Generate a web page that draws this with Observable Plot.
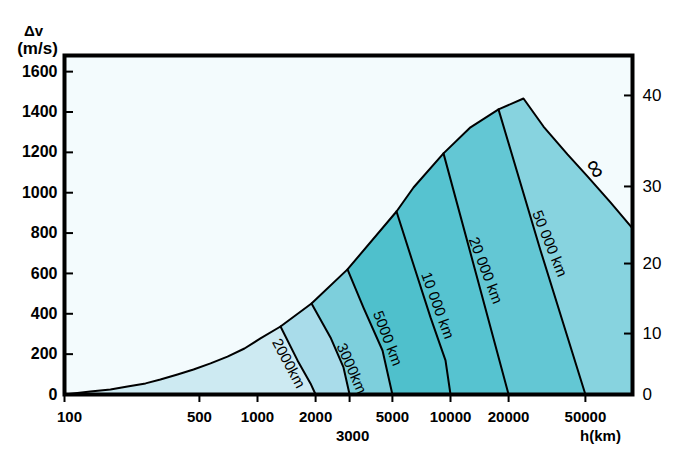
<!DOCTYPE html>
<html>
<head>
<meta charset="utf-8">
<script src="https://cdn.jsdelivr.net/npm/d3@7"></script>
<script src="https://cdn.jsdelivr.net/npm/@observablehq/plot@0.6"></script>
<style>
  html, body { margin: 0; padding: 0; background: #fff; }
</style>
</head>
<body>
<div id="chart"></div>
<script>
// ---- data ----
// upper envelope of the shaded region: altitude h (km) vs Δv (m/s)
const envH  = [100, 136, 173, 212, 263, 314, 385, 466, 571, 699, 856, 1036, 1316, 1905, 2926, 5251, 6433, 9198, 12694, 17730, 23890, 30330, 40390, 51270, 67450, 87700];
const envDv = [0,   15,  25,  40,  55,  74,  99,  124, 154, 188, 228, 278,  337,  451,  620,  907,  1026, 1195, 1324,  1413,  1467,  1328,  1190,  1081,  952,   823];

// contour lines (from the envelope down to Δv = 0)
const c2000H  = [1316, 1612, 1882, 2000];
const c2000Dv = [337, 169, 55, 0];
const c3000H  = [1905, 2389, 2790, 3000];
const c3000Dv = [451, 283, 134, 0];
const c5000H  = [2926, 3540, 4444, 5000];
const c5000Dv = [620, 431, 218, 0];
const c10000H  = [5251, 6281, 7878, 9421, 10000];
const c10000Dv = [907, 674, 382, 169, 0];
const c20000H  = [9198, 13600, 20000];
const c20000Dv = [1195, 595, 0];
const c50000H  = [17730, 29270, 50000];
const c50000Dv = [1413, 714, 0];

const bandColors = ["#cdeaf2", "#a9dcea", "#7dcfdc", "#4fc0cc", "#56c3d0", "#63c7d4", "#87d3df"];

// contour labels
const labelText = ["2000km", "3000km", "5000 km", "10 000 km", "20 000 km", "50 000 km", "∞"];
const labelH    = [1447, 3069, 4716, 8560, 15180, 32600, 56400];
const labelDv   = [154, 129, 278, 441, 615, 748, 1120];
const labelRot  = [62, 66, 69, 70, 69, 68, 60];

// axes
const xTicks = [100, 500, 1000, 2000, 3000, 5000, 10000, 20000, 50000];
const xLabelsRow1 = [500, 1000, 2000, 5000, 10000, 20000, 50000];
const yTicks = [0, 200, 400, 600, 800, 1000, 1200, 1400, 1600];
const rightTickDv = [0, 302, 649, 1031, 1482];
const rightTickLabels = ["0", "10", "20", "30", "40"];

// ---- build tables ----
const zip = (hs, ds) => hs.map((h, i) => ({h, dv: ds[i]}));
const envelope = zip(envH, envDv);
const hMax = envH[envH.length - 1];
const contours = [
  zip(c2000H, c2000Dv), zip(c3000H, c3000Dv), zip(c5000H, c5000Dv),
  zip(c10000H, c10000Dv), zip(c20000H, c20000Dv), zip(c50000H, c50000Dv)
];
// band polygons: region under envelope, and region right of each contour
const polygons = [envelope.concat([{h: hMax, dv: 0}])];
for (const c of contours) {
  const top = c[0];
  const poly = c.slice().reverse()
    .concat(envelope.filter(p => p.h > top.h))
    .concat([{h: hMax, dv: 0}]);
  polygons.push(poly);
}
const labels = labelText.map((t, i) => ({t, h: labelH[i], dv: labelDv[i], r: labelRot[i]}));
const rightLabel = new Map(rightTickDv.map((d, i) => [d, rightTickLabels[i]]));

const font = "'Liberation Sans', Arial, sans-serif";
const ctr = {textAnchor: "middle", lineAnchor: "middle"};

const chart = Plot.plot({
  width: 675,
  height: 457,
  marginLeft: 64,
  marginRight: 43,
  marginTop: 55,
  marginBottom: 63,
  x: {type: "log", domain: [100, hMax], axis: null},
  y: {domain: [0, 1680], axis: null},
  style: {fontFamily: font, fontSize: "15px", fontWeight: "bold", color: "black", background: "white", overflow: "visible"},
  marks: [
    Plot.frame({fill: "#f3fbfd", stroke: "none"}),
    ...polygons.map((p, i) => Plot.line(p, {x: "h", y: "dv", fill: bandColors[i], stroke: "none", curve: "linear"})),
    ...contours.map(c => Plot.line(c, {x: "h", y: "dv", stroke: "black", strokeWidth: 2, curve: "linear"})),
    Plot.line(envelope, {x: "h", y: "dv", stroke: "black", strokeWidth: 2, curve: "linear"}),
    Plot.text(labels.slice(0, 6), {x: "h", y: "dv", text: "t", rotate: "r", fontSize: 15, fontWeight: "normal", fill: "black"}),
    Plot.text(labels.slice(6), {x: "h", y: "dv", text: "t", rotate: "r", fontSize: 26, fontWeight: "normal", fill: "black"}),
    // x axis
    Plot.axisX({ticks: xTicks, tickSize: 8, fill: "none", strokeWidth: 2, label: null}),
    Plot.text(xLabelsRow1, {x: d => d, text: d => String(d), frameAnchor: "bottom", ...ctr, dy: 23, fontSize: 15}),
    Plot.text([100], {x: d => d, text: d => String(d), frameAnchor: "bottom", ...ctr, dy: 23, dx: 5, fontSize: 15}),
    Plot.text([3000], {x: d => d, text: d => String(d), frameAnchor: "bottom", ...ctr, dy: 42, dx: 3, fontSize: 15}),
    Plot.text(["h(km)"], {frameAnchor: "bottom-right", text: d => d, ...ctr, dx: -32, dy: 42, fontSize: 15}),
    // left axis
    Plot.axisY({ticks: yTicks, anchor: "left", tickSize: 0, tickPadding: 7, label: null, fontSize: 16,
      tickFormat: d => String(d)}),
    Plot.axisY({ticks: yTicks, anchor: "left", tickSize: 9, dx: 9, fill: "none", strokeWidth: 2, label: null}),
    // right axis
    Plot.axisY({ticks: rightTickDv, anchor: "right", tickSize: 0, tickPadding: 10, label: null, fontSize: 17,
      fontWeight: "normal", tickFormat: d => rightLabel.get(d)}),
    Plot.axisY({ticks: rightTickDv, anchor: "right", tickSize: 9, dx: -9, fill: "none", strokeWidth: 2, label: null}),
    // y title
    Plot.text(["Δv"], {frameAnchor: "top-left", text: d => d, ...ctr, dx: -31, dy: -24, fontSize: 15}),
    Plot.text(["(m/s)"], {frameAnchor: "top-left", text: d => d, ...ctr, dx: -27, dy: -7, fontSize: 17, letterSpacing: "1px"}),
    Plot.frame({stroke: "black", strokeWidth: 4})
  ]
});
document.getElementById("chart").appendChild(chart);
</script>
</body>
</html>
